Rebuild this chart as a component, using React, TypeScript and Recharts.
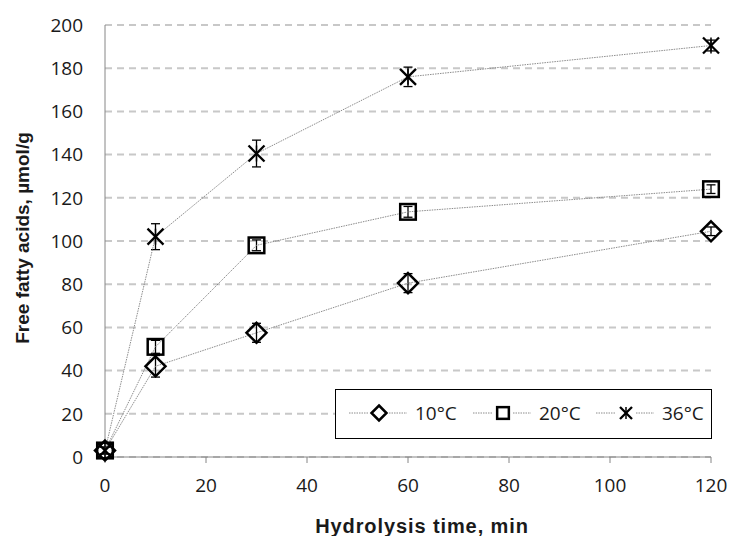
import { ComposedChart, Line, XAxis, YAxis, CartesianGrid, ErrorBar } from "recharts";

const times = [0, 10, 30, 60, 120];
const ffa10 = [3, 42, 57.5, 80.5, 104.5];
const err10 = [1.5, 5, 4.4, 4.4, 2];
const ffa20 = [3, 51, 98, 113.5, 124];
const err20 = [1.5, 3, 2.5, 2.5, 2];
const ffa36 = [3, 102, 140.5, 176, 190.5];
const err36 = [1.5, 6, 6.2, 4.5, 2.5];

const xTicks = [0, 20, 40, 60, 80, 100, 120];
const yTicks = [0, 20, 40, 60, 80, 100, 120, 140, 160, 180, 200];

const toRows = (vals: number[], errs: number[]) =>
  times.map((t, i) => ({ t, v: vals[i], e: errs[i] }));

const series = [
  { name: "10°C", shape: "diamond", data: toRows(ffa10, err10) },
  { name: "20°C", shape: "square", data: toRows(ffa20, err20) },
  { name: "36°C", shape: "star", data: toRows(ffa36, err36) },
];

const LINE = "#8c8c8c";
const SANS = "'Open Sans', sans-serif";
const BOLD = "'Liberation Sans', Arial, sans-serif";
const TICK_FONT = { fontFamily: SANS, fontSize: 19, fill: "#1a1a1a" };

const Marker = ({ shape, cx, cy, s }: { shape: string; cx: number; cy: number; s: number }) => {
  if (shape === "diamond") {
    return (
      <path
        d={`M${cx},${cy - s} L${cx + s},${cy} L${cx},${cy + s} L${cx - s},${cy} Z`}
        fill="none"
        stroke="#000"
        strokeWidth={2.5}
      />
    );
  }
  if (shape === "square") {
    const h = s * 0.78;
    return <rect x={cx - h} y={cy - h} width={h * 2} height={h * 2} fill="none" stroke="#000" strokeWidth={2.5} />;
  }
  const h = s * 0.8;
  return (
    <g stroke="#000" strokeWidth={2.3}>
      <line x1={cx - h} y1={cy - h} x2={cx + h} y2={cy + h} />
      <line x1={cx - h} y1={cy + h} x2={cx + h} y2={cy - h} />
      <line x1={cx} y1={cy - h} x2={cx} y2={cy + h} strokeWidth={1.5} />
    </g>
  );
};

// legend item anchor x positions (line start) inside the legend box
const legendX = [14, 138, 261];

const LegendBox = () => (
  <svg
    width={377}
    height={50}
    style={{ position: "absolute", left: 335, top: 389, overflow: "visible" }}
  >
    <rect x={0.5} y={0.5} width={376} height={49} fill="#fff" stroke="#000" strokeWidth={1} />
    {series.map((s, i) => (
      <g key={s.name}>
        <line
          x1={legendX[i]}
          y1={24}
          x2={legendX[i] + 58}
          y2={24}
          stroke={LINE}
          strokeWidth={1}
          strokeDasharray="1.5 1"
        />
        <rect x={legendX[i] + 20} y={14} width={19} height={20} fill="#fff" />
        <Marker shape={s.shape} cx={legendX[i] + 30} cy={24} s={7.5} />
        <text x={legendX[i] + 66} y={24} dy="0.35em" fontFamily={SANS} fontSize={19} fill="#1a1a1a">
          {s.name}
        </text>
      </g>
    ))}
  </svg>
);

export default function App() {
  return (
    <div style={{ position: "absolute", left: 0, top: 0, width: 731, height: 536, background: "#fff" }}>
      <ComposedChart width={731} height={536} margin={{ top: 25, right: 20, left: 0, bottom: 0 }}>
        <CartesianGrid vertical={false} stroke="#c8c8c8" strokeWidth={2} strokeDasharray="7 5" />
        <XAxis
          type="number"
          dataKey="t"
          domain={[0, 120]}
          ticks={xTicks}
          height={79}
          stroke="#868686"
          fontSize={19}
          tickSize={6}
          tickMargin={16}
          tick={TICK_FONT}
          label={() => (
            <text
              x={422}
              y={533}
              textAnchor="middle"
              fontFamily={BOLD}
              fontWeight="bold"
              fontSize={20}
              letterSpacing={0.9}
              fill="#1a1a1a"
            >
              Hydrolysis time, min
            </text>
          )}
        />
        <YAxis
          type="number"
          domain={[0, 200]}
          ticks={yTicks}
          width={105}
          stroke="#868686"
          fontSize={19}
          tickLine={false}
          tickSize={0}
          tickMargin={22}
          tick={TICK_FONT}
          label={() => (
            <text
              x={29}
              y={238}
              transform="rotate(-90 29 238)"
              textAnchor="middle"
              fontFamily={BOLD}
              fontWeight="bold"
              fontSize={19}
              fill="#1a1a1a"
            >
              Free fatty acids, µmol/g
            </text>
          )}
        />
        {series.map((s) => (
          <Line
            key={s.name}
            data={s.data}
            dataKey="v"
            name={s.name}
            stroke={LINE}
            strokeWidth={1}
            strokeDasharray="1.5 1"
            isAnimationActive={false}
            activeDot={false}
            dot={(p: any) => <Marker key={`${s.name}-${p.index}`} shape={s.shape} cx={p.cx} cy={p.cy} s={10} />}
          >
            <ErrorBar dataKey="e" direction="y" width={4.5} stroke="#000" strokeWidth={1.3} />
          </Line>
        ))}
      </ComposedChart>
      <LegendBox />
    </div>
  );
}
